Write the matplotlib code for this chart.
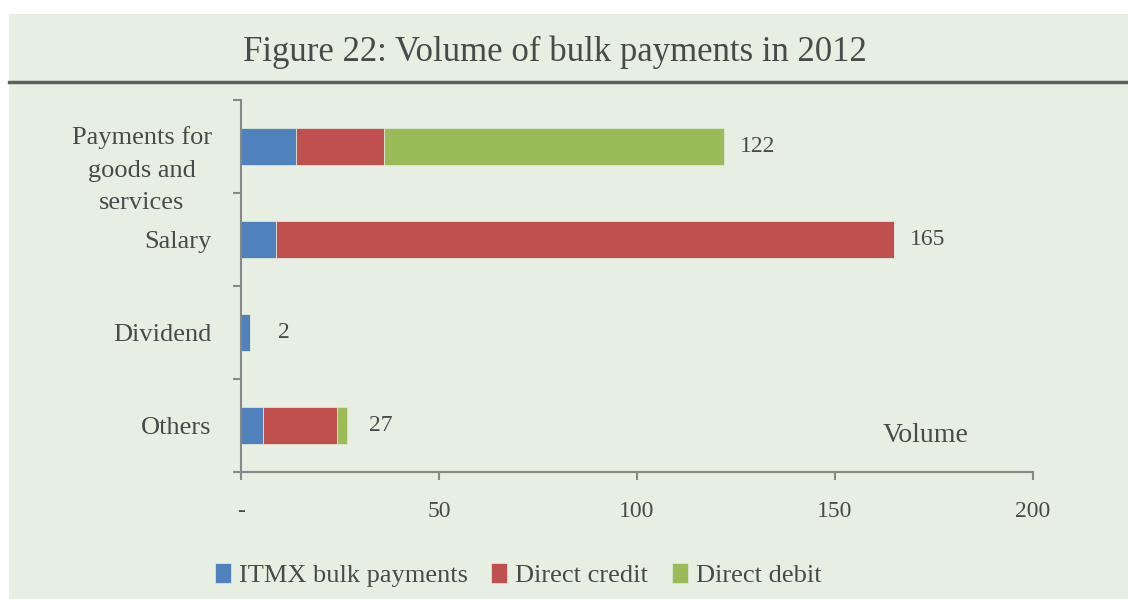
import matplotlib
matplotlib.use("Agg")
import matplotlib.pyplot as plt
import matplotlib.transforms as mtransforms
from matplotlib.lines import Line2D
from matplotlib.patches import Rectangle

# bulk payment volumes, 2012
categories = ["Payments for\ngoods and\nservices", "Salary", "Dividend", "Others"]
series_names = ["ITMX bulk payments", "Direct credit", "Direct debit"]
itmx_bulk = [14.0, 8.8, 2.3, 5.6]
direct_credit = [22.0, 156.2, 0.0, 18.6]
direct_debit = [86.0, 0.0, 0.0, 2.6]
x_ticks = [0, 50, 100, 150, 200]
x_tick_labels = ["-", "50", "100", "150", "200"]

BG = "#e7efe3"
TEXT = "#4a4a4a"
AXIS = "#888888"
COLORS = ["#4f81bd", "#c0504d", "#9bbb59"]

plt.rcParams["font.family"] = ["Liberation Serif", "DejaVu Serif"]

fig = plt.figure(figsize=(11.28, 5.99), dpi=100)
fig.patch.set_facecolor("white")
# tinted panel with a white strip on top and left
fig.add_artist(Rectangle((9 / 1128, 0), 1, (599 - 14) / 599, transform=fig.transFigure,
                         facecolor=BG, edgecolor="none", zorder=-10))

fig.text(555 / 1128, 1 - 52 / 599, "Figure 22: Volume of bulk payments in 2012",
         ha="center", va="center", fontsize=25, color=TEXT)
fig.add_artist(Line2D([9 / 1128, 1], [1 - 82 / 599] * 2, transform=fig.transFigure,
                      color="#5f5f5f", lw=2.5))

ax = fig.add_axes([241 / 1128, (599 - 472) / 599, 792 / 1128, 372 / 599])
ax.set_facecolor("none")

ypos = list(range(len(categories) - 1, -1, -1))
left = [0.0] * len(categories)
for name, vals, col in zip(series_names, [itmx_bulk, direct_credit, direct_debit], COLORS):
    ax.barh(ypos, vals, left=left, height=0.4, color=col, label=name,
            edgecolor="#dce6d6", linewidth=0.6)
    left = [l + v for l, v in zip(left, vals)]

for y, total in zip(ypos, left):
    ax.annotate(f"{total:.0f}", (total, y), xytext=(24, 0), textcoords="offset points",
                ha="center", va="center", fontsize=17, color=TEXT)

ax.set_xlim(0, 200)
ax.set_ylim(-0.5, len(categories) - 0.5)
ax.set_xticks(x_ticks)
ax.set_xticklabels(x_tick_labels)
ax.set_yticks(ypos)
ax.set_yticklabels(categories, multialignment="center")
ax.set_yticks([p - 0.5 for p in range(len(categories) + 1)], minor=True)

ax.tick_params(axis="y", which="major", length=0, pad=21, labelsize=19, labelcolor=TEXT)
ax.tick_params(axis="y", which="minor", length=6, width=1.5, color=AXIS)
ax.tick_params(axis="x", length=6, width=1.5, color=AXIS, pad=15, labelsize=17, labelcolor=TEXT)

# the three-line label is widely spaced and sits a little below its bar
first = ax.get_yticklabels()[0]
first.set_linespacing(1.6)
first.set_transform(first.get_transform() +
                    mtransforms.ScaledTranslation(0, -16 / 100, fig.dpi_scale_trans))

for side in ["top", "right"]:
    ax.spines[side].set_visible(False)
for side in ["left", "bottom"]:
    ax.spines[side].set_color(AXIS)
    ax.spines[side].set_linewidth(1.5)

ax.text(0.864, 0.097, "Volume", transform=ax.transAxes, ha="center", va="center",
        fontsize=20, color=TEXT)

ax.legend(loc="center", bbox_to_anchor=(518 / 1128, 1 - 575 / 599),
          bbox_transform=fig.transFigure, ncol=3, frameon=False, fontsize=19,
          handlelength=0.6, handleheight=0.8, handletextpad=0.3, columnspacing=0.9,
          labelcolor=TEXT)

fig.savefig("out.png", dpi=100, facecolor=fig.get_facecolor())
